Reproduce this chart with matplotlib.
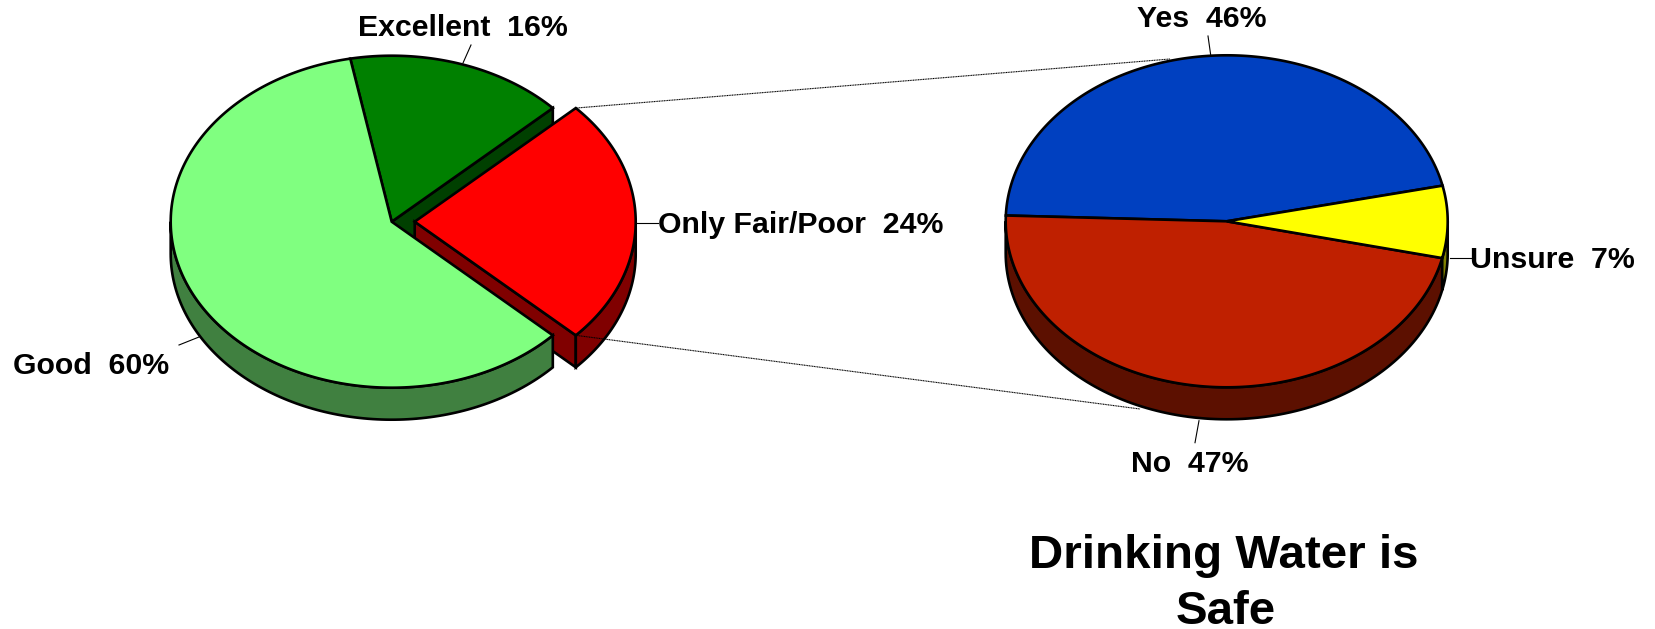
import numpy as np
import matplotlib
matplotlib.use('Agg')
import matplotlib.pyplot as plt
from matplotlib.patches import Polygon

plt.rcParams['font.family'] = ['Liberation Sans', 'DejaVu Sans']

# Left pie
left_names = ['Only Fair/Poor', 'Excellent', 'Good']
left_values = [24, 16, 60]
left_tops = ['#ff0000', '#008000', '#80ff80']
left_sides = ['#800000', '#004000', '#408040']

# Right pie
right_names = ['Yes', 'No', 'Unsure']
right_values = [46, 47, 7]
right_tops = ['#0040c0', '#bf2000', '#ffff00']
right_sides = ['#002060', '#5c1000', '#808000']

title_lines = ['Drinking Water is', 'Safe']

RX, RY, DEPTH = 221, 166, 32
LW = 1.9


def rim(cx, cy, ang):
    a = np.radians(ang)
    return cx + RX * np.cos(a), cy - RY * np.sin(a)


def spans(values, start):
    edges = start + np.cumsum([0] + list(values)) * 3.6
    return list(zip(edges[:-1], edges[1:]))


def top(ax, cx, cy, a0, a1, color, z):
    t = np.linspace(a0, a1, 200)
    x, y = rim(cx, cy, t)
    pts = np.column_stack([np.r_[cx, x], np.r_[cy, y]])
    ax.add_patch(Polygon(pts, closed=True, fc=color, ec='black', lw=LW, zorder=z))


def wall(ax, cx, cy, a0, a1, color, z):
    # only the front half of the rim can be seen
    for shift in (0, 360):
        lo, hi = max(a0 + shift, 180), min(a1 + shift, 360)
        if hi <= lo:
            continue
        t = np.linspace(lo, hi, 120)
        x, y = rim(cx, cy, t)
        pts = np.column_stack([np.r_[x, x[::-1]], np.r_[y, y[::-1] + DEPTH]])
        ax.add_patch(Polygon(pts, closed=True, fc=color, ec='black', lw=LW, zorder=z))


def cut(ax, cx, cy, ang, color, z):
    x, y = rim(cx, cy, ang)
    pts = [(cx, cy), (x, y), (x, y + DEPTH), (cx, cy + DEPTH)]
    ax.add_patch(Polygon(pts, closed=True, fc=color, ec='black', lw=LW, zorder=z))


def leader(ax, x0, y0, x1, y1):
    ax.plot([x0, x1], [y0, y1], color='black', lw=0.8, zorder=1)


fig = plt.figure(figsize=(16.56, 6.29), dpi=100)
ax = fig.add_axes([0, 0, 1, 1])
ax.set_xlim(0, 1656)
ax.set_ylim(629, 0)
ax.axis('off')

# left pie, back to front
lx, ly = 391.7, 221.7
explode = 23
(red0, red1), (exc0, exc1), (good0, good1) = spans(left_values, -43.2)

cut(ax, lx, ly, exc0, left_sides[1], 2)
top(ax, lx, ly, exc0, exc1, left_tops[1], 3)
cut(ax, lx + explode, ly, red0, left_sides[0], 4)
wall(ax, lx + explode, ly, red0, red1, left_sides[0], 4)
top(ax, lx + explode, ly, red0, red1, left_tops[0], 5)
wall(ax, lx, ly, good0, good1, left_sides[2], 6)
top(ax, lx, ly, good0, good1, left_tops[2], 7)

# connector lines between the pies
ux, uy = rim(lx + explode, ly, red1)
bx, by = rim(lx + explode, ly, red0)
ax.plot([ux, 1170], [uy, 59], color='black', lw=0.8, ls=(0, (1, 0.5)), zorder=8)
ax.plot([bx, 1140], [by, 409], color='black', lw=0.8, ls=(0, (1, 0.5)), zorder=8)

# right pie
rx, ry = 1226.7, 221.3
right_spans = spans(right_values, 12.4)
for (a0, a1), side in zip(right_spans, right_sides):
    wall(ax, rx, ry, a0, a1, side, 9)
for (a0, a1), color in zip(right_spans, right_tops):
    top(ax, rx, ry, a0, a1, color, 10)

# leaders
leader(ax, 463, 63, 471, 45)
leader(ax, 199, 337, 179, 345)
leader(ax, 637, 223, 658, 223)
leader(ax, 1210.7, 55, 1208, 36)
leader(ax, 1450, 258, 1472, 258)
leader(ax, 1199, 420.7, 1195, 442.7)

# labels
label_style = dict(fontsize=21.8, fontweight='bold', ha='left', va='baseline', zorder=12)
ax.text(358, 35.7, f'{left_names[1]}  {left_values[1]}%', **label_style)
ax.text(12.7, 374, f'{left_names[2]}  {left_values[2]}%', **label_style)
ax.text(658, 232.7, f'{left_names[0]}  {left_values[0]}%', **label_style)
ax.text(1136.7, 26.7, f'{right_names[0]}  {right_values[0]}%', **label_style)
ax.text(1131, 471.7, f'{right_names[1]}  {right_values[1]}%', **label_style)
ax.text(1470.5, 267.7, f'{right_names[2]}  {right_values[2]}%', **label_style)

# title
ax.text(1224, 568, title_lines[0], fontsize=34.2, fontweight='bold', ha='center', va='baseline')
ax.text(1226, 624, title_lines[1], fontsize=34.2, fontweight='bold', ha='center', va='baseline')

fig.savefig('out.png', dpi=100)
